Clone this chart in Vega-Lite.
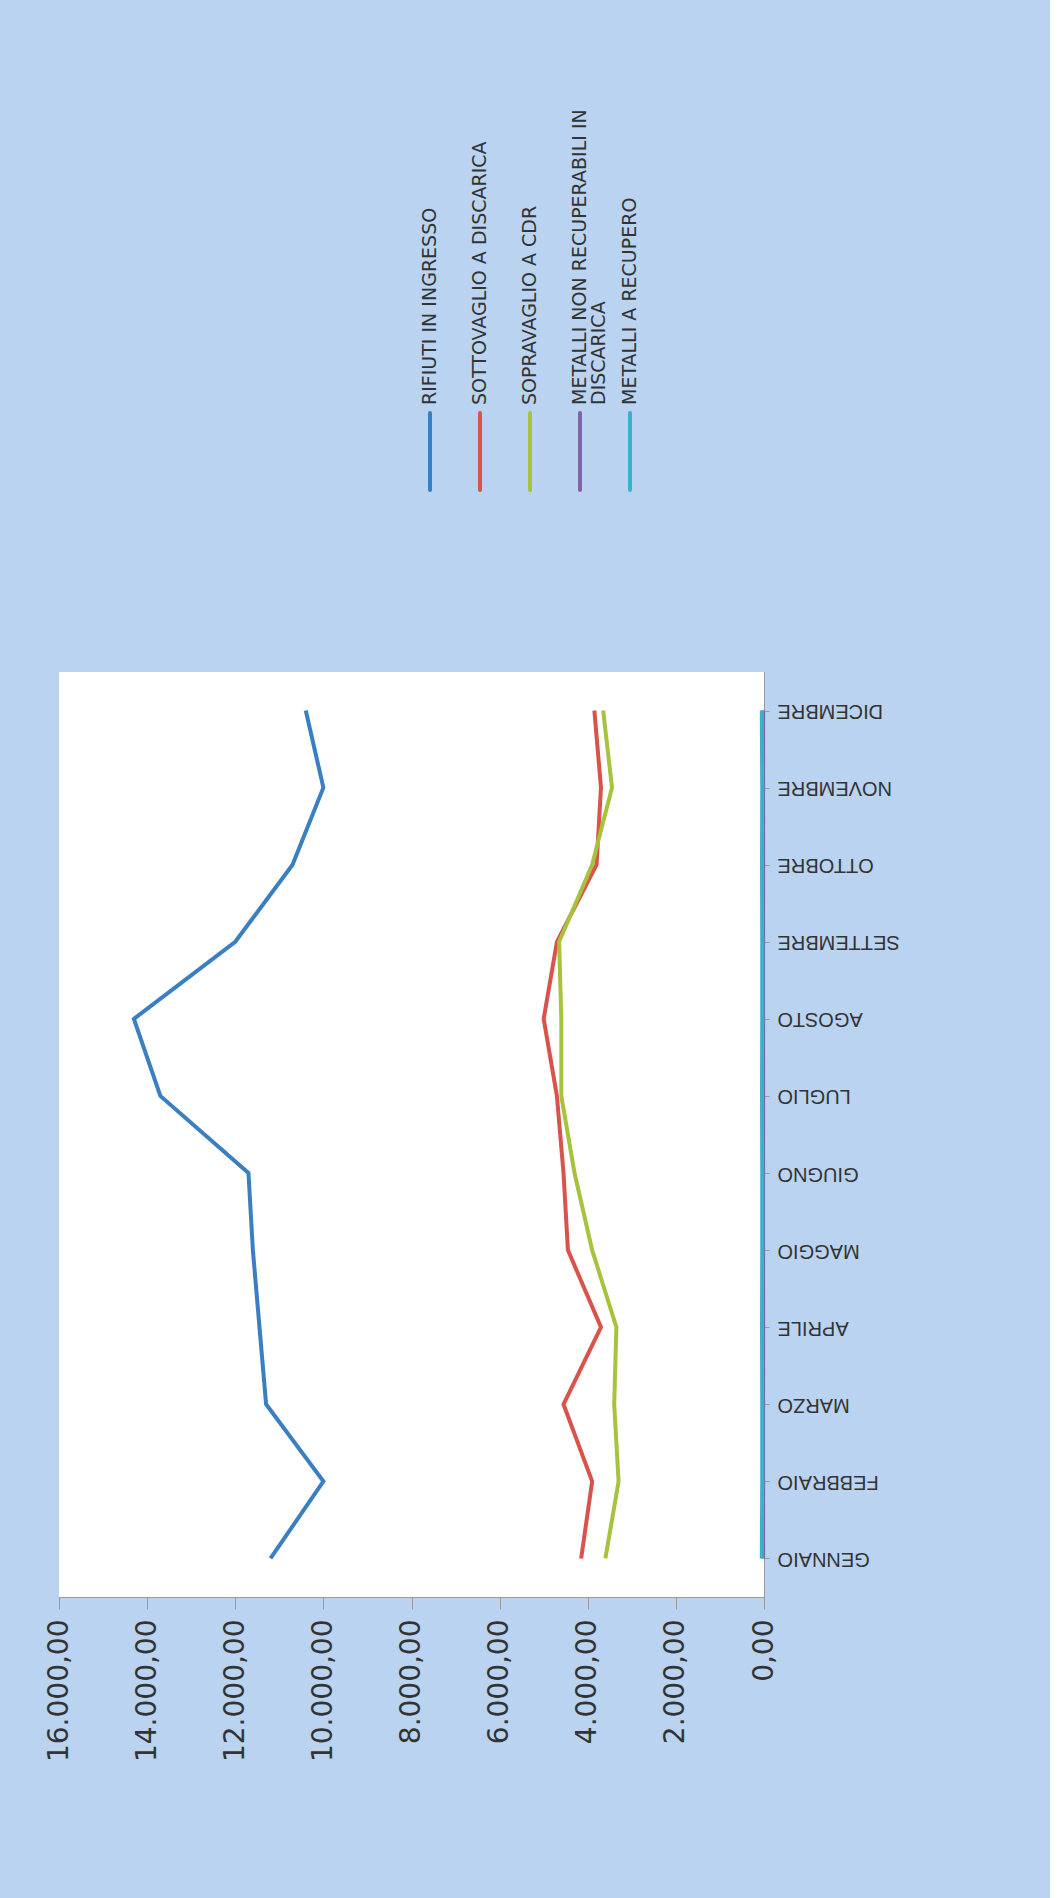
{
  "$schema": "https://vega.github.io/schema/vega-lite/v6.json",
  "background": "#b9d3f1",
  "padding": {"left": 45, "top": 0, "right": 150, "bottom": 150},
  "spacing": 0,
  "config": {
    "view": {"stroke": null},
    "font": "Liberation Sans"
  },
  "datasets": {
    "series": [
      {"serie": "RIFIUTI IN INGRESSO", "label": ["RIFIUTI IN INGRESSO"]},
      {"serie": "SOTTOVAGLIO A DISCARICA", "label": ["SOTTOVAGLIO A DISCARICA"]},
      {"serie": "SOPRAVAGLIO A CDR", "label": ["SOPRAVAGLIO A CDR"]},
      {"serie": "METALLI NON RECUPERABILI IN DISCARICA", "label": ["METALLI NON RECUPERABILI IN", "DISCARICA"]},
      {"serie": "METALLI A RECUPERO", "label": ["METALLI A RECUPERO"]}
    ],
    "values": [
      {"mese": "GENNAIO", "serie": "RIFIUTI IN INGRESSO", "t": 11200},
      {"mese": "FEBBRAIO", "serie": "RIFIUTI IN INGRESSO", "t": 10000},
      {"mese": "MARZO", "serie": "RIFIUTI IN INGRESSO", "t": 11300},
      {"mese": "APRILE", "serie": "RIFIUTI IN INGRESSO", "t": 11450},
      {"mese": "MAGGIO", "serie": "RIFIUTI IN INGRESSO", "t": 11600},
      {"mese": "GIUGNO", "serie": "RIFIUTI IN INGRESSO", "t": 11700},
      {"mese": "LUGLIO", "serie": "RIFIUTI IN INGRESSO", "t": 13700},
      {"mese": "AGOSTO", "serie": "RIFIUTI IN INGRESSO", "t": 14300},
      {"mese": "SETTEMBRE", "serie": "RIFIUTI IN INGRESSO", "t": 12000},
      {"mese": "OTTOBRE", "serie": "RIFIUTI IN INGRESSO", "t": 10700},
      {"mese": "NOVEMBRE", "serie": "RIFIUTI IN INGRESSO", "t": 10000},
      {"mese": "DICEMBRE", "serie": "RIFIUTI IN INGRESSO", "t": 10400},
      {"mese": "GENNAIO", "serie": "SOTTOVAGLIO A DISCARICA", "t": 4150},
      {"mese": "FEBBRAIO", "serie": "SOTTOVAGLIO A DISCARICA", "t": 3900},
      {"mese": "MARZO", "serie": "SOTTOVAGLIO A DISCARICA", "t": 4550},
      {"mese": "APRILE", "serie": "SOTTOVAGLIO A DISCARICA", "t": 3700},
      {"mese": "MAGGIO", "serie": "SOTTOVAGLIO A DISCARICA", "t": 4450},
      {"mese": "GIUGNO", "serie": "SOTTOVAGLIO A DISCARICA", "t": 4550},
      {"mese": "LUGLIO", "serie": "SOTTOVAGLIO A DISCARICA", "t": 4700},
      {"mese": "AGOSTO", "serie": "SOTTOVAGLIO A DISCARICA", "t": 5000},
      {"mese": "SETTEMBRE", "serie": "SOTTOVAGLIO A DISCARICA", "t": 4700},
      {"mese": "OTTOBRE", "serie": "SOTTOVAGLIO A DISCARICA", "t": 3800},
      {"mese": "NOVEMBRE", "serie": "SOTTOVAGLIO A DISCARICA", "t": 3700},
      {"mese": "DICEMBRE", "serie": "SOTTOVAGLIO A DISCARICA", "t": 3850},
      {"mese": "GENNAIO", "serie": "SOPRAVAGLIO A CDR", "t": 3600},
      {"mese": "FEBBRAIO", "serie": "SOPRAVAGLIO A CDR", "t": 3300},
      {"mese": "MARZO", "serie": "SOPRAVAGLIO A CDR", "t": 3400},
      {"mese": "APRILE", "serie": "SOPRAVAGLIO A CDR", "t": 3350},
      {"mese": "MAGGIO", "serie": "SOPRAVAGLIO A CDR", "t": 3900},
      {"mese": "GIUGNO", "serie": "SOPRAVAGLIO A CDR", "t": 4300},
      {"mese": "LUGLIO", "serie": "SOPRAVAGLIO A CDR", "t": 4600},
      {"mese": "AGOSTO", "serie": "SOPRAVAGLIO A CDR", "t": 4600},
      {"mese": "SETTEMBRE", "serie": "SOPRAVAGLIO A CDR", "t": 4650},
      {"mese": "OTTOBRE", "serie": "SOPRAVAGLIO A CDR", "t": 3900},
      {"mese": "NOVEMBRE", "serie": "SOPRAVAGLIO A CDR", "t": 3450},
      {"mese": "DICEMBRE", "serie": "SOPRAVAGLIO A CDR", "t": 3650},
      {"mese": "GENNAIO", "serie": "METALLI NON RECUPERABILI IN DISCARICA", "t": 20},
      {"mese": "FEBBRAIO", "serie": "METALLI NON RECUPERABILI IN DISCARICA", "t": 20},
      {"mese": "MARZO", "serie": "METALLI NON RECUPERABILI IN DISCARICA", "t": 20},
      {"mese": "APRILE", "serie": "METALLI NON RECUPERABILI IN DISCARICA", "t": 20},
      {"mese": "MAGGIO", "serie": "METALLI NON RECUPERABILI IN DISCARICA", "t": 20},
      {"mese": "GIUGNO", "serie": "METALLI NON RECUPERABILI IN DISCARICA", "t": 20},
      {"mese": "LUGLIO", "serie": "METALLI NON RECUPERABILI IN DISCARICA", "t": 20},
      {"mese": "AGOSTO", "serie": "METALLI NON RECUPERABILI IN DISCARICA", "t": 20},
      {"mese": "SETTEMBRE", "serie": "METALLI NON RECUPERABILI IN DISCARICA", "t": 20},
      {"mese": "OTTOBRE", "serie": "METALLI NON RECUPERABILI IN DISCARICA", "t": 20},
      {"mese": "NOVEMBRE", "serie": "METALLI NON RECUPERABILI IN DISCARICA", "t": 20},
      {"mese": "DICEMBRE", "serie": "METALLI NON RECUPERABILI IN DISCARICA", "t": 20},
      {"mese": "GENNAIO", "serie": "METALLI A RECUPERO", "t": 50},
      {"mese": "FEBBRAIO", "serie": "METALLI A RECUPERO", "t": 40},
      {"mese": "MARZO", "serie": "METALLI A RECUPERO", "t": 40},
      {"mese": "APRILE", "serie": "METALLI A RECUPERO", "t": 45},
      {"mese": "MAGGIO", "serie": "METALLI A RECUPERO", "t": 40},
      {"mese": "GIUGNO", "serie": "METALLI A RECUPERO", "t": 40},
      {"mese": "LUGLIO", "serie": "METALLI A RECUPERO", "t": 45},
      {"mese": "AGOSTO", "serie": "METALLI A RECUPERO", "t": 40},
      {"mese": "SETTEMBRE", "serie": "METALLI A RECUPERO", "t": 40},
      {"mese": "OTTOBRE", "serie": "METALLI A RECUPERO", "t": 45},
      {"mese": "NOVEMBRE", "serie": "METALLI A RECUPERO", "t": 40},
      {"mese": "DICEMBRE", "serie": "METALLI A RECUPERO", "t": 50}
    ]
  },
  "vconcat": [
    {
      "width": 705,
      "height": 672,
      "data": {"name": "series"},
      "encoding": {
        "x": {
          "field": "serie", "type": "nominal", "axis": null,
          "sort": null,
          "scale": {"type": "point", "padding": 0, "range": [371, 571]}
        }
      },
      "layer": [
        {
          "mark": {"type": "rule", "strokeWidth": 4, "strokeCap": "round"},
          "encoding": {
            "y": {"value": 413},
            "y2": {"value": 490},
            "color": {
              "field": "serie", "type": "nominal", "legend": null, "sort": null,
              "scale": {
                "domain": ["RIFIUTI IN INGRESSO", "SOTTOVAGLIO A DISCARICA", "SOPRAVAGLIO A CDR", "METALLI NON RECUPERABILI IN DISCARICA", "METALLI A RECUPERO"],
                "range": ["#3a7fc1", "#d9534a", "#a7c23d", "#8063a8", "#3bb0c9"]
              }
            }
          }
        },
        {
          "mark": {"type": "text", "angle": -90, "align": "left", "baseline": "middle", "fontSize": 19, "color": "#333", "lineHeight": 19, "font": "DejaVu Sans"},
          "encoding": {
            "y": {"value": 405},
            "text": {"field": "label"}
          }
        }
      ]
    },
    {
      "width": 705,
      "height": 925,
      "data": {"name": "values"},
      "layer": [
        {
          "mark": {"type": "rect", "color": "white"},
          "data": {"values": [{}]},
          "encoding": {}
        },
        {
          "mark": {"type": "line", "strokeWidth": 4},
          "encoding": {
            "x": {
              "field": "t", "type": "quantitative",
              "scale": {"domain": [0, 16000], "reverse": true},
              "axis": {
                "title": null, "values": [0, 2000, 4000, 6000, 8000, 10000, 12000, 14000, 16000],
                "labelExpr": "replace(replace(replace(format(datum.value, ',.2f'), ',', '#'), '.', ','), '#', '.')",
                "labelAngle": -90, "labelFontSize": 28, "labelColor": "#333",
                "labelPadding": 10, "tickSize": 12, "tickColor": "#999", "domainColor": "#999",
                "grid": true, "gridColor": "#aaa", "labelFont": "DejaVu Sans"
              }
            },
            "y": {
              "field": "mese", "type": "ordinal",
              "sort": ["DICEMBRE", "NOVEMBRE", "OTTOBRE", "SETTEMBRE", "AGOSTO", "LUGLIO", "GIUGNO", "MAGGIO", "APRILE", "MARZO", "FEBBRAIO", "GENNAIO"],
              "scale": {"type": "point", "padding": 0.5},
              "axis": {
                "title": null, "orient": "right", "labelAngle": 180,
                "labelFontSize": 20, "labelColor": "#333", "labelPadding": 8,
                "tickSize": 5, "tickColor": "#999", "domain": true, "domainColor": "#999"
              }
            },
            "color": {
              "field": "serie", "type": "nominal", "legend": null,
              "scale": {
                "domain": ["RIFIUTI IN INGRESSO", "SOTTOVAGLIO A DISCARICA", "SOPRAVAGLIO A CDR", "METALLI NON RECUPERABILI IN DISCARICA", "METALLI A RECUPERO"],
                "range": ["#3a7fc1", "#d9534a", "#a7c23d", "#8063a8", "#3bb0c9"]
              }
            }
          }
        }
      ]
    }
  ]
}
